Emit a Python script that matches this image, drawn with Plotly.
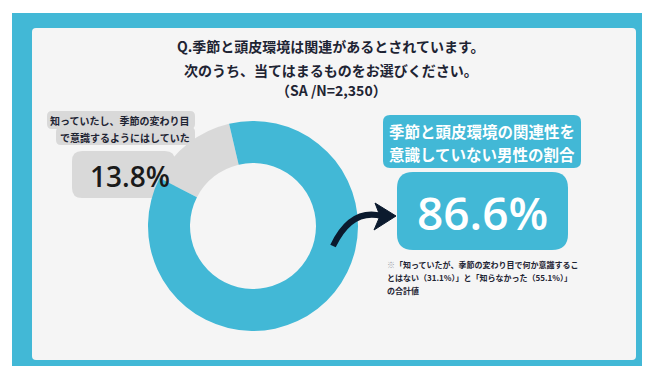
import plotly.graph_objects as go

# ---- data ----
categories = ["知っていたし、季節の変わり目で意識するようにはしていた", "それ以外"]
values = [13.8, 86.2]
highlight_value = 86.6
part_values = [31.1, 55.1]
sample_n = "2,350"

W, H = 650, 366
TEAL = "#42B8D6"
GRAY = "#D9D9D9"
PANEL = "#F5F5F5"
DARK = "#1E2433"
FONT = "Noto Sans CJK JP"


def X(px):
    return px / W


def Y(py):
    return 1 - py / H


def rrect(x0, y0, x1, y1, r):
    return (f"M {X(x0+r)},{Y(y0)} L {X(x1-r)},{Y(y0)} Q {X(x1)},{Y(y0)} {X(x1)},{Y(y0+r)} "
            f"L {X(x1)},{Y(y1-r)} Q {X(x1)},{Y(y1)} {X(x1-r)},{Y(y1)} "
            f"L {X(x0+r)},{Y(y1)} Q {X(x0)},{Y(y1)} {X(x0)},{Y(y1-r)} "
            f"L {X(x0)},{Y(y0+r)} Q {X(x0)},{Y(y0)} {X(x0+r)},{Y(y0)} Z")


def box(x0, y0, x1, y1, r, color, layer="below"):
    return dict(type="path", xref="paper", yref="paper", path=rrect(x0, y0, x1, y1, r),
                fillcolor=color, line=dict(width=0), layer=layer)


def txt(text, px, py, size, color=DARK, xanchor="center", weight="bold", family=FONT):
    return dict(text=text, x=X(px), y=Y(py), xref="paper", yref="paper", showarrow=False,
                xanchor=xanchor, yanchor="middle",
                font=dict(size=size, color=color, family=family, weight=weight))


# donut geometry (pixels)
cx, cy, R = 245, 218, 105
gray_center_deg = 322
rotation = gray_center_deg - values[0] * 3.6 / 2

fig = go.Figure(go.Pie(
    labels=categories, values=values, hole=0.6, sort=False, direction="clockwise",
    rotation=rotation, marker=dict(colors=[GRAY, TEAL], line=dict(width=0)),
    textinfo="none", hoverinfo="skip", showlegend=False,
    domain=dict(x=[X(cx - R), X(cx + R)], y=[Y(cy + R), Y(cy - R)]),
))

shapes = [
    dict(type="rect", xref="paper", yref="paper", x0=X(4), x1=X(648), y0=Y(366), y1=Y(5),
         fillcolor=TEAL, line=dict(width=0), layer="below"),
    box(24, 20, 628, 352, 4, PANEL),
    # left labels
    box(39, 103, 187, 121, 5, GRAY),
    box(48, 119, 187, 137, 5, GRAY),
    box(64, 143, 167, 190, 10, GRAY),
    # right highlight boxes
    box(375, 107, 573, 160, 7, TEAL, layer="above"),
    box(389, 164, 560, 242, 16, TEAL, layer="above"),
    # arrow
    dict(type="path", xref="paper", yref="paper",
         path=f"M {X(325)},{Y(238)} Q {X(343)},{Y(200)} {X(374)},{Y(208)}",
         line=dict(color="#0B1A2E", width=6), layer="above"),
    dict(type="path", xref="paper", yref="paper",
         path=(f"M {X(388)},{Y(208)} L {X(367)},{Y(195)} L {X(372)},{Y(208)} "
               f"L {X(366)},{Y(222)} Z"),
         fillcolor="#0B1A2E", line=dict(color="#0B1A2E", width=1), layer="above"),
]

annotations = [
    txt("Q.季節と頭皮環境は関連があるとされています。", 323, 38, 14),
    txt("次のうち、当てはまるものをお選びください。", 323, 62, 14),
    txt(f"（SA /N={sample_n}）", 323, 82, 14),
    txt("知っていたし、季節の変わり目", 184, 112, 10, xanchor="right"),
    txt("で意識するようにはしていた", 184, 129, 10, xanchor="right"),
    txt(f"{values[0]}%", 122, 168, 28, color="#1A1A1A", weight=600, family="Open Sans"),
    txt("季節と頭皮環境の関連性を", 474, 123, 15.5, color="white"),
    txt("意識していない男性の割合", 474, 146, 15.5, color="white"),
    txt(f"{highlight_value}%", 474, 204, 46, color="white", weight=600, family="Open Sans"),
    txt("<span style='color:#9AA0A8'>※</span>「知っていたが、季節の変わり目で何か意識するこ",
        377, 256, 8, xanchor="left"),
    txt(f"とはない（{part_values[0]}%）」と「知らなかった（{part_values[1]}%）」",
        377, 269, 8, xanchor="left"),
    txt("の合計値", 377, 282, 8, xanchor="left"),
]

fig.update_layout(
    width=W, height=H, autosize=False,
    margin=dict(l=0, r=0, t=0, b=0),
    paper_bgcolor="white", plot_bgcolor="white",
    shapes=shapes, annotations=annotations, showlegend=False,
)

fig.write_html("out.html")
